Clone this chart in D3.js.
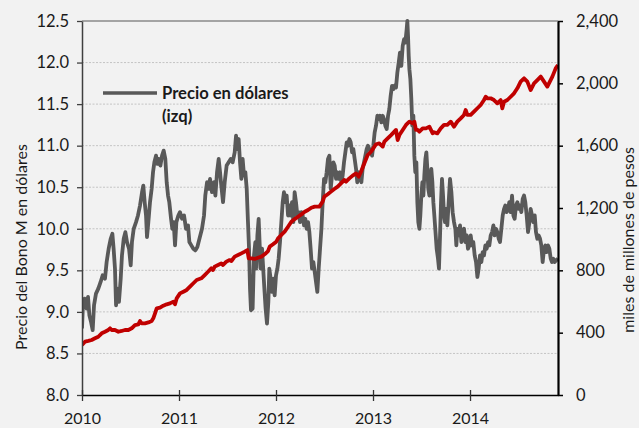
<!DOCTYPE html>
<html><head><meta charset="utf-8">
<script src="https://cdn.jsdelivr.net/npm/d3@7"></script>
<style>
body{margin:0;background:#f2f2f2}
svg{display:block}
text{font-family:Lato,"Open Sans",sans-serif;fill:#1a1a1a}
</style></head><body>
<svg id="c" width="639" height="428"></svg>
<script>
const yearTicks = [2010, 2011, 2012, 2013, 2014];
const leftTicks = [8.0, 8.5, 9.0, 9.5, 10.0, 10.5, 11.0, 11.5, 12.0, 12.5];
const rightTicks = [0, 400, 800, 1200, 1600, 2000, 2400];
const xDomain = [2010, 2014.907];

// Precio en dólares (izq) — decimal years and values
const grayYears = [
2010.000,2010.010,2010.027,2010.048,2010.062,2010.076,2010.093,2010.110,2010.124,2010.144,2010.168,2010.192,2010.213,2010.237,2010.254,2010.275,2010.296,2010.313,2010.326,2010.340,2010.351,2010.364,2010.381,2010.399,2010.412,2010.430,2010.447,2010.464,2010.485,2010.502,2010.515,2010.533,2010.557,2010.577,2010.598,2010.619,2010.632,2010.646,2010.660,2010.670,2010.684,2010.701,2010.718,2010.732,2010.746,2010.763,2010.777,2010.790,2010.808,2010.825,2010.842,2010.859,2010.873,2010.887,2010.900,2010.918,2010.931,2010.945,2010.959,2010.973,2010.993,
2011.010,2011.031,2011.052,2011.072,2011.093,2011.107,2011.127,2011.148,2011.168,2011.189,2011.237,2011.258,2011.271,2011.289,2011.306,2011.320,2011.340,2011.361,2011.375,2011.392,2011.409,2011.423,2011.436,2011.454,2011.471,2011.491,2011.512,2011.533,2011.553,2011.574,2011.588,2011.601,2011.615,2011.629,2011.643,2011.656,2011.670,2011.684,2011.698,2011.711,2011.722,2011.732,2011.742,2011.759,2011.773,2011.787,2011.797,2011.808,2011.821,2011.832,2011.842,2011.856,2011.866,2011.880,2011.893,2011.907,2011.921,2011.931,2011.945,2011.959,2011.973,2011.986,
2012.000,2012.014,2012.027,2012.041,2012.055,2012.069,2012.082,2012.096,2012.110,2012.124,2012.137,2012.151,2012.165,2012.179,2012.192,2012.206,2012.220,2012.234,2012.247,2012.261,2012.275,2012.289,2012.302,2012.316,2012.330,2012.344,2012.357,2012.371,2012.385,2012.399,2012.426,2012.440,2012.454,2012.468,2012.481,2012.495,2012.509,2012.522,2012.536,2012.550,2012.564,2012.577,2012.591,2012.605,2012.619,2012.632,2012.646,2012.660,2012.674,2012.687,2012.701,2012.715,2012.729,2012.742,2012.756,2012.770,2012.784,2012.797,2012.811,2012.825,2012.838,2012.852,2012.866,2012.880,2012.893,2012.907,2012.921,2012.935,2012.948,2012.962,2012.976,2012.990,
2013.003,2013.017,2013.031,2013.045,2013.058,2013.072,2013.086,2013.100,2013.113,2013.127,2013.141,2013.155,2013.168,2013.182,2013.196,2013.210,2013.223,2013.237,2013.251,2013.265,2013.278,2013.292,2013.306,2013.320,2013.333,2013.347,2013.354,2013.361,2013.368,2013.375,2013.385,2013.395,2013.405,2013.416,2013.426,2013.436,2013.447,2013.457,2013.467,2013.478,2013.488,2013.498,2013.509,2013.519,2013.529,2013.540,2013.550,2013.560,2013.570,2013.581,2013.591,2013.601,2013.612,2013.622,2013.632,2013.656,2013.670,2013.680,2013.691,2013.701,2013.711,2013.722,2013.732,2013.742,2013.753,2013.766,2013.780,2013.794,2013.808,2013.821,2013.835,2013.849,2013.859,2013.869,2013.883,2013.897,2013.911,2013.924,2013.938,2013.952,2013.966,2013.979,2013.993,
2014.007,2014.021,2014.034,2014.048,2014.062,2014.076,2014.089,2014.103,2014.117,2014.131,2014.144,2014.158,2014.172,2014.186,2014.199,2014.213,2014.227,2014.241,2014.254,2014.268,2014.282,2014.296,2014.309,2014.323,2014.337,2014.351,2014.364,2014.378,2014.392,2014.405,2014.419,2014.433,2014.447,2014.460,2014.474,2014.488,2014.502,2014.515,2014.529,2014.543,2014.557,2014.570,2014.584,2014.598,2014.612,2014.625,2014.639,2014.653,2014.667,2014.680,2014.694,2014.708,2014.722,2014.735,2014.749,2014.763,2014.777,2014.790,2014.804,2014.818,2014.832,2014.845,2014.859,2014.873,2014.887,2014.907
];
const grayPrice = [
8.80,9.08,9.16,9.04,9.18,8.96,8.88,8.78,9.08,9.22,9.28,9.36,9.44,9.40,9.60,9.76,9.88,9.94,9.76,9.52,9.08,9.28,9.12,9.40,9.68,9.88,9.96,9.84,9.76,9.56,9.84,10.00,10.08,10.16,10.28,10.44,10.52,10.32,10.16,9.90,10.08,10.32,10.48,10.68,10.80,10.88,10.78,10.84,10.76,10.88,10.94,10.84,10.56,10.40,10.32,10.12,10.00,10.08,9.80,10.08,10.16,
10.20,10.12,10.16,10.00,10.04,9.84,9.80,9.76,9.74,9.78,10.00,10.16,10.40,10.56,10.48,10.60,10.44,10.56,10.40,10.68,10.84,10.68,10.52,10.32,10.56,10.76,10.80,10.84,10.80,10.92,11.12,10.96,11.08,10.80,10.60,10.84,10.64,10.68,10.48,10.08,9.76,9.28,9.02,9.04,9.68,9.84,9.52,9.92,10.12,9.80,9.52,9.76,9.56,9.28,9.04,8.86,9.12,9.52,9.40,9.24,9.40,9.20,
9.44,9.52,9.64,9.84,10.08,10.32,10.44,10.32,10.40,10.16,10.28,10.16,10.32,10.08,10.44,10.32,10.16,10.20,10.08,10.20,10.16,10.04,10.12,10.00,10.08,9.96,9.76,9.52,9.60,9.48,9.24,9.52,9.76,10.00,10.32,10.60,10.56,10.68,10.84,10.88,10.48,10.64,10.80,10.76,10.60,10.68,10.60,10.68,10.56,10.64,10.80,10.92,11.04,11.00,11.08,11.04,10.92,10.96,10.84,10.72,10.56,10.68,10.64,10.56,10.72,10.80,10.88,10.96,11.00,10.96,10.92,10.88,
11.00,11.16,11.24,11.36,11.32,11.36,11.28,11.36,11.32,11.24,11.20,11.36,11.44,11.60,11.72,11.68,11.72,11.70,11.88,12.00,12.12,11.96,12.20,12.28,12.24,12.40,12.50,12.32,12.08,11.92,11.80,11.56,11.24,11.36,10.88,10.68,10.80,10.32,10.08,10.00,10.16,10.40,10.56,10.40,10.64,10.84,10.92,10.72,10.48,10.40,10.56,10.72,10.56,10.32,10.16,9.76,9.64,9.52,9.92,10.32,10.60,10.40,10.16,10.08,10.24,10.04,10.32,10.60,10.44,10.20,10.08,10.00,9.80,10.00,9.92,10.04,9.84,9.96,10.00,9.84,9.92,9.76,9.80,
9.92,9.80,9.84,9.68,9.60,9.42,9.52,9.68,9.60,9.72,9.68,9.80,9.76,9.84,9.80,9.92,9.96,10.04,9.92,10.00,9.96,9.88,9.84,10.00,10.16,10.24,10.28,10.20,10.24,10.32,10.20,10.40,10.16,10.12,10.28,10.32,10.24,10.28,10.20,10.36,10.40,10.32,10.16,9.96,10.08,10.24,10.16,10.08,10.16,9.96,9.88,9.92,9.88,9.80,9.60,9.76,9.80,9.72,9.80,9.76,9.64,9.60,9.64,9.60,9.62,9.64
];

// Second series (right axis, miles de millones de pesos)
const redYears = [
2010.000,2010.031,2010.065,2010.100,2010.134,2010.168,2010.203,2010.237,2010.271,2010.289,2010.306,2010.340,2010.375,2010.409,2010.443,2010.478,2010.512,2010.546,2010.581,2010.598,2010.615,2010.649,2010.684,2010.718,2010.735,2010.753,2010.770,2010.804,2010.838,2010.873,2010.907,2010.942,2010.959,2010.976,
2011.010,2011.045,2011.079,2011.113,2011.148,2011.182,2011.230,2011.265,2011.299,2011.333,2011.351,2011.368,2011.402,2011.436,2011.454,2011.488,2011.522,2011.540,2011.574,2011.608,2011.643,2011.677,2011.705,2011.718,2011.746,2011.780,2011.814,2011.849,2011.883,2011.918,2011.935,2011.969,
2012.003,2012.021,2012.055,2012.089,2012.124,2012.158,2012.192,2012.227,2012.261,2012.296,2012.330,2012.364,2012.399,2012.447,2012.481,2012.498,2012.533,2012.567,2012.601,2012.636,2012.670,2012.705,2012.722,2012.756,2012.790,2012.825,2012.852,2012.876,2012.911,2012.945,2012.979,
2013.003,2013.031,2013.065,2013.100,2013.117,2013.151,2013.186,2013.220,2013.237,2013.254,2013.272,2013.306,2013.340,2013.375,2013.409,2013.426,2013.443,2013.461,2013.478,2013.512,2013.546,2013.581,2013.615,2013.629,2013.663,2013.698,2013.732,2013.766,2013.801,2013.835,2013.869,2013.904,2013.938,2013.955,2013.973,
2014.007,2014.041,2014.076,2014.110,2014.144,2014.162,2014.179,2014.213,2014.247,2014.282,2014.316,2014.333,2014.351,2014.385,2014.419,2014.454,2014.488,2014.522,2014.557,2014.591,2014.625,2014.660,2014.694,2014.729,2014.763,2014.797,2014.814,2014.849,2014.883,2014.907
];
const redStock = [
321,342,347,353,364,374,396,406,417,428,417,417,406,411,417,417,428,449,453,475,460,460,466,475,492,524,556,560,573,582,588,599,582,620,
652,663,674,695,717,738,749,770,791,813,802,824,834,845,834,856,866,860,888,898,909,920,930,877,877,873,881,888,903,924,952,967,
984,1005,1027,1048,1080,1112,1129,1144,1159,1176,1187,1202,1209,1209,1241,1273,1288,1305,1322,1337,1358,1380,1369,1390,1408,1422,1401,1433,1487,1540,1561,
1583,1609,1615,1594,1626,1647,1668,1690,1701,1636,1668,1701,1733,1754,1743,1754,1701,1701,1690,1711,1711,1722,1679,1686,1679,1711,1733,1733,1754,1722,1754,1775,1797,1829,1797,
1797,1818,1840,1861,1893,1914,1904,1904,1893,1872,1893,1840,1882,1893,1914,1936,1968,2011,2032,2011,1957,2000,2021,2043,2011,1979,2000,2043,2096,2118
];

const L = 82, R = 558, T = 21, B = 395;
const svg = d3.select("#c");
svg.append("rect").attr("width",639).attr("height",428).attr("fill","#f2f2f2");

const x = d3.scaleLinear().domain(xDomain).range([L, R]);
const yL = d3.scaleLinear().domain([8, 12.5]).range([B, T]);
const yR = d3.scaleLinear().domain([0, 2400]).range([B, T]);

// gridlines
svg.append("g").selectAll("line").data(leftTicks.filter(v => v > 8 && v < 12.5)).join("line")
  .attr("x1", L).attr("x2", R).attr("y1", d => yL(d)).attr("y2", d => yL(d))
  .attr("stroke", "#c4c4c4").attr("stroke-width", 1).attr("stroke-dasharray", "2,1.5");
// top border
svg.append("line").attr("x1", L).attr("x2", R).attr("y1", T).attr("y2", T)
  .attr("stroke", "#8a8a8a").attr("stroke-width", 1.3);

svg.append("clipPath").attr("id","clip").append("rect")
  .attr("x", L).attr("y", T - 2).attr("width", R - L).attr("height", B - T + 2);

const grayData = grayYears.map((t, i) => [t, grayPrice[i]]);
const redData = redYears.map((t, i) => [t, redStock[i]]);

svg.append("path").datum(grayData).attr("clip-path","url(#clip)")
  .attr("d", d3.line().x(d => x(d[0])).y(d => yL(d[1])))
  .attr("fill","none").attr("stroke","#595959").attr("stroke-width",3.8)
  .attr("stroke-linejoin","round");
svg.append("path").datum(redData).attr("clip-path","url(#clip)")
  .attr("d", d3.line().x(d => x(d[0])).y(d => yR(d[1])))
  .attr("fill","none").attr("stroke","#c00000").attr("stroke-width",3.8)
  .attr("stroke-linejoin","round");

// left axis
const gl = svg.append("g").attr("transform", `translate(${L},0)`)
  .call(d3.axisLeft(yL).tickValues(leftTicks).tickFormat(d3.format(".1f")).tickSize(5).tickSizeOuter(0).tickPadding(8));
gl.select(".domain").attr("stroke","#404040").attr("stroke-width",1.5);
gl.selectAll(".tick line").attr("stroke","#404040").attr("stroke-width",1.3);
gl.selectAll("text").style("font-size","16.5px").attr("fill","#1a1a1a");

// right axis
const gr = svg.append("g").attr("transform", `translate(${R},0)`)
  .call(d3.axisRight(yR).tickValues(rightTicks).tickFormat(d3.format(",")).tickSize(5).tickSizeOuter(0).tickPadding(13));
gr.select(".domain").attr("stroke","#000").attr("stroke-width",2.2);
gr.selectAll(".tick line").attr("stroke","#000").attr("stroke-width",1.5);
gr.selectAll("text").style("font-size","16.5px").attr("fill","#1a1a1a");

// bottom axis
const gb = svg.append("g").attr("transform", `translate(0,${B})`)
  .call(d3.axisBottom(x).tickValues(yearTicks).tickFormat(d3.format("d")).tickSize(6).tickSizeOuter(0));
gb.select(".domain").attr("stroke","#000").attr("stroke-width",1.5);
gb.selectAll(".tick line").attr("y1",-5).attr("y2",6).attr("stroke","#333").attr("stroke-width",1.3);
gb.selectAll("text").attr("y",29).attr("dy",null).style("font-size","16px").attr("fill","#1a1a1a");

// axis titles
svg.append("text").attr("transform","translate(27,247) rotate(-90)").attr("text-anchor","middle")
  .style("font-size","16px").text("Precio del Bono M en dólares");
svg.append("text").attr("transform","translate(634,240) rotate(-90)").attr("text-anchor","middle")
  .style("font-size","16px").text("miles de millones de pesos");

// legend
svg.append("line").attr("x1",103).attr("x2",157).attr("y1",93).attr("y2",93)
  .attr("stroke","#595959").attr("stroke-width",3.6);
svg.append("text").attr("x",162).attr("y",99).style("font-size","16.6px").style("font-weight","bold").text("Precio en dólares");
svg.append("text").attr("x",162).attr("y",122).style("font-size","16.6px").style("font-weight","bold").text("(izq)");
</script>
</body></html>
